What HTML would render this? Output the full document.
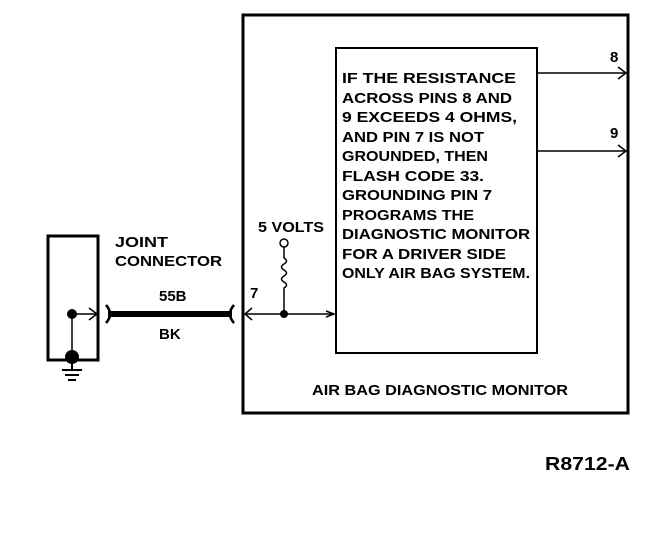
<!DOCTYPE html><html><head><style>
body{margin:0;background:#fff}
svg{display:block}
text{font-family:"Liberation Sans",sans-serif;font-weight:bold;font-size:15px;fill:#000}
</style></head><body>
<svg width="672" height="536" viewBox="0 0 672 536">
<g stroke="#000" fill="none">
<rect x="243" y="15" width="385" height="398" stroke-width="3"/>
<rect x="336" y="48" width="201" height="305" stroke-width="2"/>
<rect x="48" y="236" width="50" height="124" stroke-width="3"/>
<line x1="537" y1="73" x2="626" y2="73" stroke-width="1.5"/>
<polyline points="618,67 626,73 618,79" stroke-width="1.5"/>
<line x1="537" y1="151" x2="626" y2="151" stroke-width="1.5"/>
<polyline points="618,145 626,151 618,157" stroke-width="1.5"/>
<line x1="72" y1="314" x2="97" y2="314" stroke-width="1.5"/>
<polyline points="89,308 97,314 89,320" stroke-width="1.5"/>
<line x1="72" y1="314" x2="72" y2="357" stroke-width="1.5"/>
<line x1="108" y1="314" x2="232" y2="314" stroke-width="6"/>
<path d="M106,305 Q114,314 106,323 M234,305 Q226,314 234,323" stroke-width="2.5"/>
<line x1="245" y1="314" x2="334" y2="314" stroke-width="1.5"/>
<polyline points="252,308 245,314 252,320" stroke-width="1.5"/>
<polyline points="326,311 334,314 326,317" stroke-width="1.5"/>
<circle cx="284" cy="243" r="4" stroke-width="1.5"/>
<path d="M284,247 V258 q5,3 0,6 q-5,3 0,6 q5,3 0,6 q-5,3 0,6 q5,3 0,6 V314" stroke-width="1.5"/>
<line x1="62" y1="370" x2="82" y2="370" stroke-width="2"/>
<line x1="65" y1="375" x2="79" y2="375" stroke-width="2"/>
<line x1="68" y1="380" x2="76" y2="380" stroke-width="2"/>
<line x1="72" y1="360" x2="72" y2="370" stroke-width="2"/>
</g>
<circle cx="72" cy="314" r="5"/>
<circle cx="72" cy="357" r="7"/>
<circle cx="284" cy="314" r="4"/>
<text x="115" y="247" textLength="53" lengthAdjust="spacingAndGlyphs">JOINT</text>
<text x="115" y="266" textLength="107" lengthAdjust="spacingAndGlyphs">CONNECTOR</text>
<text x="159" y="301">55B</text>
<text x="159" y="339">BK</text>
<text x="250" y="298">7</text>
<text x="258" y="232" textLength="66" lengthAdjust="spacingAndGlyphs">5 VOLTS</text>
<text x="610" y="62">8</text>
<text x="610" y="138">9</text>
<text x="342" y="83" textLength="174" lengthAdjust="spacingAndGlyphs">IF THE RESISTANCE</text>
<text x="342" y="103" textLength="170" lengthAdjust="spacingAndGlyphs">ACROSS PINS 8 AND</text>
<text x="342" y="122" textLength="175" lengthAdjust="spacingAndGlyphs">9 EXCEEDS 4 OHMS,</text>
<text x="342" y="142" textLength="142" lengthAdjust="spacingAndGlyphs">AND PIN 7 IS NOT</text>
<text x="342" y="161" textLength="146" lengthAdjust="spacingAndGlyphs">GROUNDED, THEN</text>
<text x="342" y="181" textLength="142" lengthAdjust="spacingAndGlyphs">FLASH CODE 33.</text>
<text x="342" y="200" textLength="150" lengthAdjust="spacingAndGlyphs">GROUNDING PIN 7</text>
<text x="342" y="220" textLength="132" lengthAdjust="spacingAndGlyphs">PROGRAMS THE</text>
<text x="342" y="239" textLength="188" lengthAdjust="spacingAndGlyphs">DIAGNOSTIC MONITOR</text>
<text x="342" y="259" textLength="164" lengthAdjust="spacingAndGlyphs">FOR A DRIVER SIDE</text>
<text x="342" y="278" textLength="188" lengthAdjust="spacingAndGlyphs">ONLY AIR BAG SYSTEM.</text>
<text x="312" y="395" textLength="256" lengthAdjust="spacingAndGlyphs">AIR BAG DIAGNOSTIC MONITOR</text>
<text x="545" y="470" style="font-size:18px" textLength="85" lengthAdjust="spacingAndGlyphs">R8712-A</text>
</svg>
</body></html>
